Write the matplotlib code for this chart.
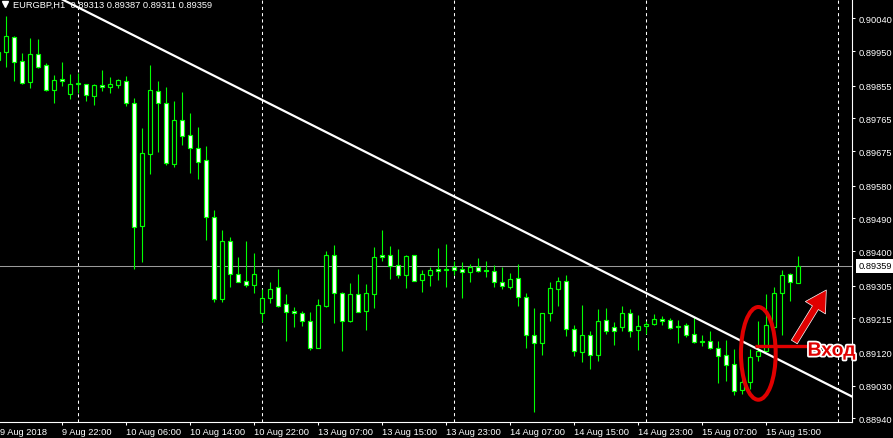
import matplotlib.pyplot as plt
import matplotlib.patheffects as pe
from matplotlib.patches import Ellipse, FancyArrowPatch

plt.rcParams['font.family'] = ['Liberation Sans', 'DejaVu Sans']

# EURGBP H1 bars, 9 Aug 14:00 .. 15 Aug 19:00
opens = [0.89925, 0.89946, 0.89988, 0.89922, 0.89864, 0.89942, 0.89912, 0.89842, 0.89872, 0.89833,
         0.89862, 0.89858, 0.89827, 0.89856, 0.89852, 0.89857, 0.89868, 0.89806, 0.89470, 0.89668,
         0.89839, 0.89806, 0.89640, 0.89759, 0.89718, 0.89682, 0.89649, 0.89495, 0.89267, 0.89428,
         0.89336, 0.89317, 0.89308, 0.89231, 0.89270, 0.89300, 0.89254, 0.89234, 0.89229, 0.89209,
         0.89134, 0.89250, 0.89388, 0.89284, 0.89208, 0.89281, 0.89236, 0.89283, 0.89389, 0.89389,
         0.89361, 0.89333, 0.89388, 0.89321, 0.89335, 0.89350, 0.89349, 0.89357, 0.89351, 0.89343,
         0.89357, 0.89348, 0.89344, 0.89314, 0.89302, 0.89325, 0.89273, 0.89168, 0.89148, 0.89229,
         0.89297, 0.89319, 0.89187, 0.89123, 0.89168, 0.89113, 0.89211, 0.89191, 0.89190, 0.89231,
         0.89182, 0.89193, 0.89199, 0.89212, 0.89210, 0.89195, 0.89196, 0.89171, 0.89154, 0.89152,
         0.89133, 0.89115, 0.89089, 0.89018, 0.89039, 0.89111, 0.89126, 0.89192, 0.89286, 0.89337,
         0.89313]
highs = [0.89961, 0.90047, 0.89990, 0.89945, 0.89986, 0.89983, 0.89917, 0.89884, 0.89921, 0.89887,
         0.89889, 0.89860, 0.89859, 0.89898, 0.89879, 0.89873, 0.89880, 0.89821, 0.89738, 0.89912,
         0.89867, 0.89850, 0.89812, 0.89836, 0.89780, 0.89740, 0.89688, 0.89513, 0.89458, 0.89440,
         0.89383, 0.89428, 0.89395, 0.89296, 0.89316, 0.89351, 0.89282, 0.89247, 0.89236, 0.89232,
         0.89269, 0.89401, 0.89417, 0.89287, 0.89312, 0.89337, 0.89309, 0.89412, 0.89458, 0.89414,
         0.89406, 0.89389, 0.89389, 0.89348, 0.89356, 0.89408, 0.89419, 0.89373, 0.89370, 0.89364,
         0.89381, 0.89372, 0.89361, 0.89356, 0.89339, 0.89364, 0.89284, 0.89243, 0.89231, 0.89314,
         0.89328, 0.89333, 0.89196, 0.89253, 0.89179, 0.89240, 0.89243, 0.89204, 0.89248, 0.89240,
         0.89224, 0.89208, 0.89227, 0.89221, 0.89216, 0.89210, 0.89202, 0.89218, 0.89169, 0.89181,
         0.89153, 0.89155, 0.89132, 0.89091, 0.89132, 0.89208, 0.89282, 0.89300, 0.89348, 0.89339,
         0.89387]
lows = [0.89912, 0.89907, 0.89868, 0.89859, 0.89848, 0.89903, 0.89839, 0.89806, 0.89855, 0.89818,
        0.89835, 0.89813, 0.89802, 0.89839, 0.89835, 0.89848, 0.89800, 0.89350, 0.89371, 0.89612,
        0.89673, 0.89637, 0.89632, 0.89692, 0.89615, 0.89598, 0.89430, 0.89259, 0.89261, 0.89302,
        0.89314, 0.89302, 0.89284, 0.89206, 0.89257, 0.89247, 0.89153, 0.89192, 0.89195, 0.89129,
        0.89133, 0.89247, 0.89203, 0.89126, 0.89205, 0.89232, 0.89184, 0.89244, 0.89373, 0.89324,
        0.89326, 0.89298, 0.89317, 0.89288, 0.89304, 0.89320, 0.89302, 0.89334, 0.89271, 0.89315,
        0.89343, 0.89329, 0.89301, 0.89296, 0.89296, 0.89249, 0.89134, 0.88958, 0.89115, 0.89208,
        0.89249, 0.89167, 0.89112, 0.89096, 0.89077, 0.89097, 0.89173, 0.89142, 0.89179, 0.89164,
        0.89129, 0.89173, 0.89196, 0.89198, 0.89187, 0.89146, 0.89163, 0.89146, 0.89140, 0.89130,
        0.89036, 0.89043, 0.89005, 0.89007, 0.89022, 0.89098, 0.89123, 0.89167, 0.89169, 0.89263,
        0.89311]
closes = [0.89947, 0.89990, 0.89921, 0.89861, 0.89942, 0.89907, 0.89842, 0.89870, 0.89868, 0.89858,
          0.89859, 0.89828, 0.89857, 0.89852, 0.89859, 0.89870, 0.89806, 0.89467, 0.89669, 0.89842,
          0.89806, 0.89643, 0.89759, 0.89717, 0.89682, 0.89646, 0.89495, 0.89267, 0.89427, 0.89336,
          0.89316, 0.89307, 0.89336, 0.89270, 0.89297, 0.89250, 0.89233, 0.89229, 0.89209, 0.89134,
          0.89251, 0.89388, 0.89285, 0.89208, 0.89281, 0.89233, 0.89284, 0.89383, 0.89383, 0.89360,
          0.89333, 0.89386, 0.89319, 0.89336, 0.89348, 0.89346, 0.89351, 0.89349, 0.89343, 0.89357,
          0.89346, 0.89344, 0.89314, 0.89303, 0.89322, 0.89273, 0.89168, 0.89146, 0.89229, 0.89298,
          0.89319, 0.89187, 0.89124, 0.89168, 0.89114, 0.89209, 0.89180, 0.89179, 0.89231, 0.89181,
          0.89194, 0.89199, 0.89212, 0.89207, 0.89189, 0.89191, 0.89170, 0.89151, 0.89149, 0.89133,
          0.89111, 0.89087, 0.89015, 0.89040, 0.89110, 0.89124, 0.89196, 0.89286, 0.89334, 0.89314,
          0.89359]

time_labels = ["9 Aug 2018", "9 Aug 22:00", "10 Aug 06:00", "10 Aug 14:00", "10 Aug 22:00",
               "13 Aug 07:00", "13 Aug 15:00", "13 Aug 23:00", "14 Aug 07:00", "14 Aug 15:00",
               "14 Aug 23:00", "15 Aug 07:00", "15 Aug 15:00"]
label_bars = [0, 8, 16, 24, 32, 40, 48, 56, 64, 72, 80, 88, 96]
day_breaks = [10, 33, 57, 81, 105]  # bar index of each new day
price_ticks = [0.90040, 0.89950, 0.89855, 0.89765, 0.89675, 0.89580, 0.89490,
               0.89400, 0.89305, 0.89215, 0.89120, 0.89030, 0.88940]
bid = 0.89359
header = "EURGBP,H1  0.89313 0.89387 0.89311 0.89359"

# trend line anchors (bar, price) and the entry markup
trend_a = (8.34, 0.90088)
trend_b = (106.71, 0.89000)
entry_bar, entry_price = 95.0, 0.891187
entry_line = ([94.6, 101.1], [0.89140, 0.89140])
arrow_from = (99.5, 0.89150)
arrow_to = (103.5, 0.89293)

GREEN = "#00FF00"
RED = "#E00000"

fig = plt.figure(figsize=(8.93, 4.39), dpi=100, facecolor="black")
ax = fig.add_axes([0, 16 / 439, 852 / 893, 423 / 439], facecolor="black")

# candles
xs = list(range(len(opens)))
ax.vlines(xs, lows, highs, color=GREEN, lw=0.8, zorder=3)
bottoms = [min(o, c) for o, c in zip(opens, closes)]
heights = [max(abs(c - o), 0.000015) for o, c in zip(opens, closes)]
fills = ["black" if c > o else "white" for o, c in zip(opens, closes)]
ax.bar(xs, heights, bottom=bottoms, width=0.48, color=fills,
       edgecolor=GREEN, linewidth=0.85, zorder=3)

# day separators, bid line, trend line
for d in day_breaks:
    ax.axvline(d, color="white", lw=0.75, ls=(0, (3, 3)), zorder=1)
ax.axhline(bid, color="#9A9A9A", lw=0.75, zorder=2)
ax.axline(trend_a, trend_b, color="white", lw=1.6, zorder=4)

ax.set_xlim(0.2125, 106.71)
ax.set_ylim(0.88930, 0.90093)

for s in ["left", "top"]:
    ax.spines[s].set_visible(False)
for s in ["right", "bottom"]:
    ax.spines[s].set_color("white")
    ax.spines[s].set_linewidth(0.8)

ax.yaxis.tick_right()
ax.set_yticks(price_ticks)
ax.set_yticklabels([f"{p:.5f}" for p in price_ticks])
ax.tick_params(axis="y", colors="white", length=2.2, width=0.75, labelsize=6.7, pad=2.4)

ax.set_xticks(label_bars[1:])
ax.set_xticklabels([])
ax.tick_params(axis="x", colors="white", length=2.2, width=0.75)
for b, t in zip(label_bars, time_labels):
    ax.annotate(t, xy=(max(b, 0.35), 0), xycoords=("data", "axes fraction"), xytext=(-0.5, -3.3),
                textcoords="offset points", ha="left", va="top", fontsize=6.7,
                color="white", annotation_clip=False)

# bid price box on the scale
ax.annotate(f"{bid:.5f}", xy=(1, bid), xycoords=("axes fraction", "data"),
            xytext=(4.6, 0), textcoords="offset points", ha="left", va="center",
            fontsize=6.7, color="black", annotation_clip=False,
            bbox=dict(boxstyle="square,pad=0.25", fc="white", ec="none"))

# header
fig.text(13 / 893, 1 - 5 / 439, header, fontsize=6.7, color="white", va="center", ha="left")
fig.lines.append(plt.Line2D([5.2 / 893], [1 - 4.5 / 439], transform=fig.transFigure,
                            marker="v", markersize=4, color="white", figure=fig))

# entry markup
ax.add_patch(Ellipse((entry_bar, entry_price), width=4.34, height=0.002549, fill=False,
                     ec=RED, lw=2.9, zorder=6))
ax.plot(entry_line[0], entry_line[1], color=RED, lw=2.4, zorder=6, solid_capstyle="butt")
ax.add_patch(FancyArrowPatch(arrow_from, arrow_to,
                             arrowstyle="simple,head_width=17,head_length=15,tail_width=5",
                             mutation_scale=1, fc=RED, ec="white", lw=0.5, zorder=6,
                             shrinkA=0, shrinkB=0))
ax.text(101.15, 0.891121, "Вход", fontsize=14, fontweight="bold", color=RED,
        ha="left", va="baseline", zorder=7, clip_on=False,
        path_effects=[pe.withStroke(linewidth=2.5, foreground="white")])

fig.savefig("out.png", dpi=100, facecolor="black")
